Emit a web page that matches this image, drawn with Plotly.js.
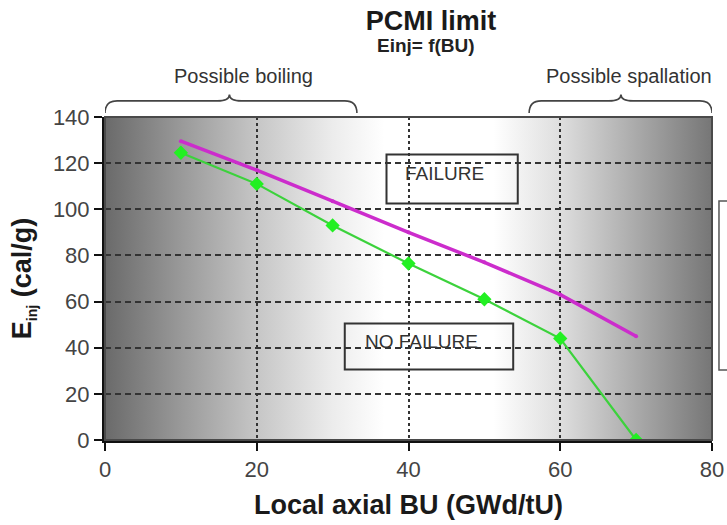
<!DOCTYPE html>
<html>
<head>
<meta charset="utf-8">
<script src="https://cdn.plot.ly/plotly-3.0.1.min.js"></script>
<style>html,body{margin:0;padding:0;background:#fff;}#chart{width:727px;height:525px;}</style>
</head>
<body>
<div id="chart"></div>
<script>
// ---- data ----
const burnup = [10, 20, 30, 40, 50, 60, 70];              // GWd/tU
const upperLimit = [129.5, 117, 103.5, 90, 77, 63, 45];    // magenta curve (cal/g)
const lowerLimit = [124.5, 111, 93, 76.5, 61, 44, 0];      // green curve (cal/g)
const xTickVals = [0, 20, 40, 60, 80];
const yTickVals = [0, 20, 40, 60, 80, 100, 120, 140];
const chartTitle = 'PCMI limit';
const chartSubtitle = 'Einj= f(BU)';
const boilingLabel = 'Possible boiling';
const spallationLabel = 'Possible spallation';
const failureLabel = 'FAILURE';
const noFailureLabel = 'NO FAILURE';

const FONT = 'Arial, "Liberation Sans", sans-serif';

// background gradient (grey -> white -> grey)
const gradSvg = '<svg xmlns="http://www.w3.org/2000/svg" width="800" height="100" preserveAspectRatio="none">' +
  '<defs><linearGradient id="g" x1="0" y1="0" x2="1" y2="0">' +
  '<stop offset="0" stop-color="#6a6a6a"/>' +
  '<stop offset="0.125" stop-color="#999999"/>' +
  '<stop offset="0.25" stop-color="#c6c6c6"/>' +
  '<stop offset="0.375" stop-color="#ececec"/>' +
  '<stop offset="0.46" stop-color="#ffffff"/>' +
  '<stop offset="0.64" stop-color="#ffffff"/>' +
  '<stop offset="0.75" stop-color="#dedede"/>' +
  '<stop offset="0.875" stop-color="#aaaaaa"/>' +
  '<stop offset="1" stop-color="#767676"/>' +
  '</linearGradient></defs><rect width="800" height="100" fill="url(#g)"/></svg>';
const gradSrc = 'data:image/svg+xml;charset=utf-8,' + encodeURIComponent(gradSvg);

function brace(x0, x1, xc, r) {
  const yb = 1.012, ybar = 1.05, ypk = 1.07;
  return `M ${x0},${yb} Q ${x0},${ybar} ${x0 + r},${ybar} L ${xc - r},${ybar} Q ${xc},${ybar} ${xc},${ypk} ` +
         `Q ${xc},${ybar} ${xc + r},${ybar} L ${x1 - r},${ybar} Q ${x1},${ybar} ${x1},${yb}`;
}

const traces = [
  {
    x: burnup, y: upperLimit, type: 'scatter', mode: 'lines+markers',
    line: {color: '#cc2ccc', width: 3.5},
    marker: {color: '#cc2ccc', size: 4},
    hoverinfo: 'skip', showlegend: false
  },
  {
    x: burnup, y: lowerLimit, type: 'scatter', mode: 'lines+markers',
    line: {color: '#3cd23c', width: 2.2},
    marker: {color: '#22f022', size: 11, symbol: 'diamond'},
    hoverinfo: 'skip', showlegend: false
  }
];

const layout = {
  width: 727, height: 525,
  margin: {l: 105, r: 15, t: 117, b: 85},
  paper_bgcolor: '#ffffff',
  plot_bgcolor: 'rgba(0,0,0,0)',
  showlegend: false,
  font: {family: FONT, color: '#333'},
  title: {
    text: chartTitle,
    font: {family: FONT, size: 27, weight: 'bold', color: '#1a1a1a'},
    x: 431 / 727, xref: 'container', xanchor: 'center',
    y: 1 - 21 / 525, yref: 'container', yanchor: 'middle'
  },
  xaxis: {
    range: [0, 80], tickvals: xTickVals, ticktext: xTickVals.map(String),
    showgrid: true, gridcolor: '#333333', gridwidth: 2, griddash: '3px,3px',
    zeroline: false, showline: true, linecolor: '#111', linewidth: 3,
    ticks: 'outside', ticklen: 8, tickwidth: 2, tickcolor: '#111',
    tickfont: {family: FONT, size: 22, color: '#444'},
    title: {text: 'Local axial BU (GWd/tU)', standoff: 14,
            font: {family: FONT, size: 27, weight: 'bold', color: '#1a1a1a'}},
    automargin: false, fixedrange: true
  },
  yaxis: {
    range: [0, 140], tickvals: yTickVals, ticktext: yTickVals.map(String),
    showgrid: true, gridcolor: '#333333', gridwidth: 2, griddash: '6px,4px',
    zeroline: false, showline: true, linecolor: '#111', linewidth: 3,
    ticks: 'outside', ticklen: 8, tickwidth: 2, tickcolor: '#111',
    tickfont: {family: FONT, size: 22, color: '#444'},
    title: {text: 'E<sub><span style="font-size:14px">inj</span></sub> (cal/g)', standoff: 14,
            font: {family: FONT, size: 27, weight: 'bold', color: '#1a1a1a'}},
    automargin: false, fixedrange: true
  },
  images: [{
    source: gradSrc, xref: 'paper', yref: 'paper', x: 0, y: 1,
    sizex: 1, sizey: 1, sizing: 'stretch', xanchor: 'left', yanchor: 'top', layer: 'below'
  }],
  shapes: [
    // plot frame (top / right)
    {type: 'rect', xref: 'paper', yref: 'paper', x0: 0, x1: 1, y0: 0, y1: 1,
     line: {color: '#4a4a4a', width: 2}, fillcolor: 'rgba(0,0,0,0)', layer: 'above'},
    // FAILURE box
    {type: 'rect', xref: 'x', yref: 'y', x0: 37.1, x1: 54.4, y0: 102.5, y1: 123.8,
     line: {color: '#333', width: 2}, fillcolor: 'rgba(0,0,0,0)'},
    // NO FAILURE box
    {type: 'rect', xref: 'x', yref: 'y', x0: 31.6, x1: 53.8, y0: 30.6, y1: 50.5,
     line: {color: '#333', width: 2}, fillcolor: 'rgba(0,0,0,0)'},
    // cut-off legend box at right
    {type: 'rect', xref: 'paper', yref: 'paper', x0: 1.0115, x1: 1.2, y0: 0.217, y1: 0.74,
     line: {color: '#555', width: 1.5}, fillcolor: 'rgba(0,0,0,0)'},
    // braces
    {type: 'path', xref: 'x', yref: 'paper', path: brace(0, 33.2, 16.4, 1.6),
     line: {color: '#444', width: 1.6}},
    {type: 'path', xref: 'x', yref: 'paper', path: brace(55.9, 80, 68, 1.6),
     line: {color: '#444', width: 1.6}}
  ],
  annotations: [
    {text: '<b>' + chartSubtitle + '</b>', xref: 'paper', yref: 'paper',
     x: (426 - 105) / 607, y: (440 - 46) / 323, showarrow: false,
     xanchor: 'center', yanchor: 'middle', font: {family: FONT, size: 19, color: '#222'}},
    {text: boilingLabel, xref: 'x', yref: 'paper', x: 18.2, y: (440 - 76) / 323,
     showarrow: false, xanchor: 'center', yanchor: 'middle',
     font: {family: FONT, size: 20, color: '#333'}},
    {text: spallationLabel, xref: 'x', yref: 'paper', x: 69.1, y: (440 - 76) / 323,
     showarrow: false, xanchor: 'center', yanchor: 'middle',
     font: {family: FONT, size: 20, color: '#333'}},
    {text: failureLabel, xref: 'x', yref: 'y', x: 44.7, y: 115.6, showarrow: false,
     xanchor: 'center', yanchor: 'middle', font: {family: FONT, size: 19, color: '#333'}},
    {text: noFailureLabel, xref: 'x', yref: 'y', x: 41.7, y: 42.6, showarrow: false,
     xanchor: 'center', yanchor: 'middle', font: {family: FONT, size: 19, color: '#333'}}
  ]
};

Plotly.newPlot('chart', traces, layout, {staticPlot: true, displayModeBar: false});
</script>
</body>
</html>
